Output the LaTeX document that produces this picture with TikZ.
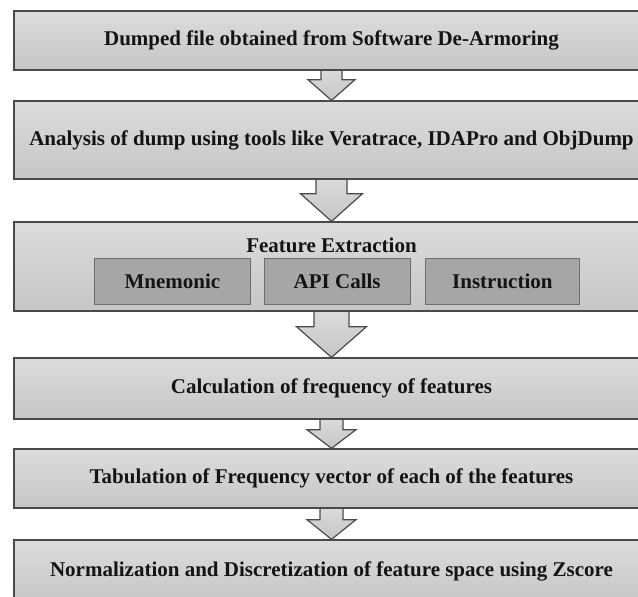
\documentclass[tikz,border=0pt]{standalone}
\usepackage{fontspec}
\setmainfont{Liberation Serif}
\usetikzlibrary{calc}
\pgfdeclarelayer{paper}
\pgfdeclarelayer{bg}
\pgfsetlayers{paper,bg,main}
\definecolor{edgecol}{HTML}{4A4A4A}
\definecolor{boxtop}{HTML}{DCDCDC}
\definecolor{boxbot}{HTML}{C6C6C6}
\definecolor{innerfill}{HTML}{A6A6A6}
\definecolor{inneredge}{HTML}{6E6E6E}
\definecolor{txtcol}{HTML}{141414}
\newcommand\blkarrow[5]{%
  \begin{pgfonlayer}{bg}
  \path[arrowbody]
    ($(#1.south)+(-#3,-3)$) -- ($(#1.south)+(-#3,#5)$) -- ($(#1.south)+(-#4,#5)$)
    -- (#2.north) --
    ($(#1.south)+(#4,#5)$) -- ($(#1.south)+(#3,#5)$) -- ($(#1.south)+(#3,-3)$) -- cycle;
  \end{pgfonlayer}}
\begin{document}
\begin{tikzpicture}[x=1pt,y=-1pt,
  stagebox/.style={draw=edgecol, line width=1.3pt, top color=boxtop, bottom color=boxbot,
    minimum width=635pt, inner sep=0pt, text=txtcol,
    font=\fontsize{21}{24}\selectfont\bfseries},
  subbox/.style={draw=inneredge, line width=1pt, fill=innerfill, minimum height=46pt,
    inner sep=0pt, text=txtcol, font=\fontsize{21}{24}\selectfont\bfseries},
  plainlabel/.style={inner sep=0pt, text=txtcol, font=\fontsize{21}{24}\selectfont\bfseries},
  arrowbody/.style={draw=edgecol, line width=1.2pt, top color=boxtop, bottom color=boxbot, line join=miter}]
\begin{pgfonlayer}{paper}
\fill[white] (0,0) rectangle (638,597);
\end{pgfonlayer}
\clip (0,0) rectangle (638,597);
\node[stagebox, minimum height=59pt] (b1) at (331.5,40.5) {Dumped file obtained from Software De-Armoring};
\node[stagebox, minimum height=78pt] (b2) at (331.5,140) {Analysis of dump using tools like Veratrace, IDAPro and ObjDump};
\node[stagebox, minimum height=89pt] (b3) at (331.5,266.5) {};
\node[plainlabel] (fe) at (331.5,245) {Feature Extraction};
\node[subbox, minimum width=156.7pt] (mn) at (172.35,281) {Mnemonic};
\node[subbox, minimum width=145.6pt] (api) at (337.2,281) {API Calls};
\node[subbox, minimum width=154.7pt] (ins) at (502.4,281) {Instruction};
\node[stagebox, minimum height=61pt] (b4) at (331.5,388.5) {Calculation of frequency of features};
\node[stagebox, minimum height=59pt] (b5) at (331.5,478.5) {Tabulation of Frequency vector of each of the features};
\node[stagebox, minimum height=62pt] (b6) at (331.5,571) {Normalization and Discretization of feature space using Zscore};
\blkarrow{b1}{b2}{10.5}{23.5}{9}
\blkarrow{b2}{b3}{15.5}{31}{14}
\blkarrow{b3}{b4}{17.5}{35}{15}
\blkarrow{b4}{b5}{11.5}{24.5}{10}
\blkarrow{b5}{b6}{11.5}{24.5}{11}
\end{tikzpicture}
\end{document}
